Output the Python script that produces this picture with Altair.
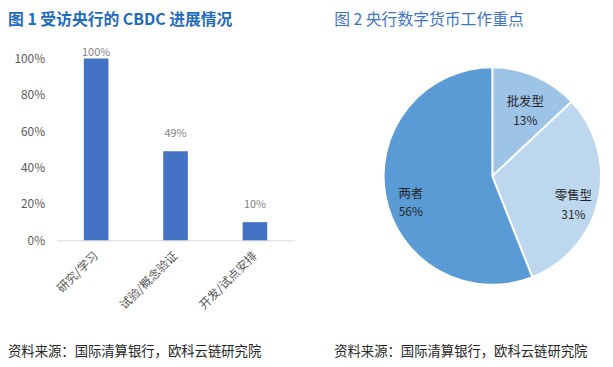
import altair as alt
import pandas as pd

# ---- data ----
categories = ["研究/学习", "试验/概念验证", "开发/试点安排"]
shares = [1.00, 0.49, 0.10]
y_ticks = [0, 0.2, 0.4, 0.6, 0.8, 1.0]

pie_names = ["批发型", "零售型", "两者"]
pie_values = [13, 31, 56]
pie_colors = ["#9DC3E6", "#BDD7EE", "#5B9BD5"]

title1 = "图 1 受访央行的 CBDC 进展情况"
title2 = "图 2  央行数字货币工作重点"
source = "资料来源：国际清算银行，欧科云链研究院"

FONT = "Noto Sans CJK SC"

bar_df = pd.DataFrame({"cat": categories, "v": shares})
pie_df = pd.DataFrame({
    "name": pie_names,
    "v": pie_values,
    "pct": [f"{p}%" for p in pie_values],
    "idx": list(range(len(pie_names))),
})

# ---- left: bar chart ----
xaxis = alt.Axis(labelAngle=-45, labelAlign="right", labelBaseline="middle",
                 labelPadding=13, labelFontSize=12, labelColor="#595959",
                 labelFont=FONT, ticks=False, domainColor="#D9D9D9",
                 domainWidth=1, labelOverlap=False, title=None)
yaxis = alt.Axis(format=".0%", values=y_ticks,
                 grid=False, domain=False, ticks=False, labelPadding=12,
                 labelFontSize=12, labelColor="#595959", labelFont=FONT,
                 labelOverlap=False, labelFlush=False, title=None)
xscale = alt.Scale(paddingInner=0.69, paddingOuter=0.345)
yscale = alt.Scale(domain=[0, 1], nice=False)

bars = alt.Chart(bar_df).mark_bar(color="#4472C4").encode(
    x=alt.X("cat:N", sort=categories, scale=xscale, axis=xaxis),
    y=alt.Y("v:Q", scale=yscale, axis=yaxis),
)

bar_labels = alt.Chart(bar_df).transform_calculate(
    ly="min(datum.v, 0.94)"
).mark_text(fontSize=11, color="#7F7F7F", font=FONT, baseline="middle", dy=-17).encode(
    x=alt.X("cat:N", sort=categories, scale=xscale, axis=xaxis),
    y=alt.Y("ly:Q", scale=yscale, axis=yaxis),
    text=alt.Text("v:Q", format=".0%"),
)

t1 = alt.Chart(pd.DataFrame({"t": [title1]})).mark_text(
    align="left", baseline="middle", fontSize=16, fontWeight="bold", color="#1F6BBF", font=FONT
).encode(x=alt.value(-49), y=alt.value(-39), text="t:N")

s1 = alt.Chart(pd.DataFrame({"t": [source]})).mark_text(
    align="left", baseline="middle", fontSize=13.5, color="#262626", font=FONT
).encode(x=alt.value(-49), y=alt.value(297), text="t:N")

left = alt.layer(bars, bar_labels, t1, s1).properties(width=241, height=184)

# ---- right: pie chart ----
theta = alt.Theta("v:Q", stack=True)
order = alt.Order("idx:Q")

pie = alt.Chart(pie_df).mark_arc(outerRadius=110, stroke="white", strokeWidth=2).encode(
    theta=theta,
    order=order,
    color=alt.Color("name:N", scale=alt.Scale(domain=pie_names, range=pie_colors), legend=None),
)

pie_name = alt.Chart(pie_df).mark_text(radius=84, fontSize=12.5, color="#262626", font=FONT, dy=2).encode(
    theta=theta, order=order, text="name:N")
pie_pct = alt.Chart(pie_df).mark_text(radius=84, fontSize=12, color="#262626", font=FONT, dy=21).encode(
    theta=theta, order=order, text="pct:N")

t2 = alt.Chart(pd.DataFrame({"t": [title2]})).mark_text(
    align="left", baseline="middle", fontSize=16, color="#3F74C4", font=FONT
).encode(x=alt.value(-50), y=alt.value(-39), text="t:N")

s2 = alt.Chart(pd.DataFrame({"t": [source]})).mark_text(
    align="left", baseline="middle", fontSize=13.5, color="#262626", font=FONT
).encode(x=alt.value(-50), y=alt.value(297), text="t:N")

right = alt.layer(pie, pie_name, pie_pct, t2, s2).properties(width=220, height=238)

chart = alt.hconcat(left, right, spacing=90, bounds="flush").properties(
    padding={"left": 0, "top": 2, "right": 0, "bottom": 0}
).configure_view(stroke=None).configure_axisY(labelOverlap=False)

chart.save("out.html", embed_options={"renderer": "svg", "actions": False})
